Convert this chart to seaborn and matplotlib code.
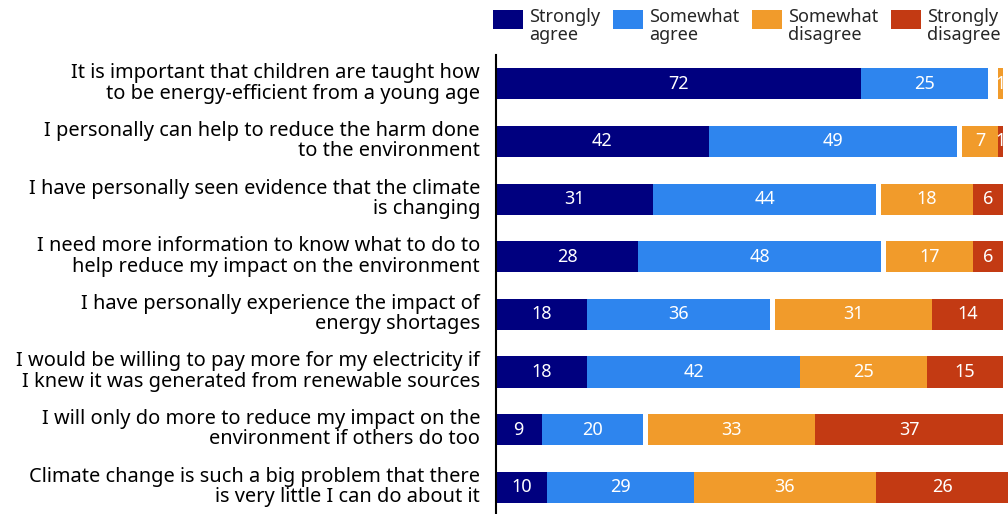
import numpy as np
import pandas as pd
import matplotlib
matplotlib.use("Agg")
import matplotlib.pyplot as plt
import matplotlib.transforms as mtransforms
import seaborn as sns
from matplotlib.patches import Patch, Rectangle
from matplotlib.legend_handler import HandlerBase

statements = [
    "It is important that children are taught how\nto be energy-efficient from a young age",
    "I personally can help to reduce the harm done\nto the environment",
    "I have personally seen evidence that the climate\nis changing",
    "I need more information to know what to do to\nhelp reduce my impact on the environment",
    "I have personally experience the impact of\nenergy shortages",
    "I would be willing to pay more for my electricity if\nI knew it was generated from renewable sources",
    "I will only do more to reduce my impact on the\nenvironment if others do too",
    "Climate change is such a big problem that there\nis very little I can do about it",
]
strongly_agree = [72, 42, 31, 28, 18, 18, 9, 10]
somewhat_agree = [25, 49, 44, 48, 36, 42, 20, 29]
somewhat_disagree = [1, 7, 18, 17, 31, 25, 33, 36]
strongly_disagree = [0, 1, 6, 6, 14, 15, 37, 26]
legend_labels = ["Strongly\nagree", "Somewhat\nagree", "Somewhat\ndisagree", "Strongly\ndisagree"]

colors = ["#00007f", "#2e85ee", "#f19b2b", "#c33a13"]

FONT = ["Noto Sans", "DejaVu Sans"]
sns.set_theme(style="white")
plt.rcParams["font.family"] = FONT

sa = np.array(strongly_agree, float)
wa = np.array(somewhat_agree, float)
wd = np.array(somewhat_disagree, float)
sd = np.array(strongly_disagree, float)
total = sa + wa + wd + sd
gap = np.clip(100 - total, 0, None)  # unanswered share, left blank

c1 = sa
c2 = c1 + wa
c3 = c2 + gap
c4 = c3 + wd
c5 = c4 + sd

df = pd.DataFrame({"statement": statements, "c1": c1, "c2": c2, "c3": c3,
                   "c4": c4, "c5": c5})

fig = plt.figure(figsize=(10.08, 5.14), dpi=100)
ax = fig.add_axes([496 / 1008, -0.004, 1 - 496 / 1008, 1 - 55 / 514 + 0.004])

layers = [("c5", colors[3]), ("c4", colors[2]), ("c3", "white"),
          ("c2", colors[1]), ("c1", colors[0])]
for col, colr in layers:
    sns.barplot(data=df, x=col, y="statement", orient="h", color=colr,
                width=0.54, linewidth=0, saturation=1, ax=ax)

# value labels
starts = [np.zeros_like(c1), c1, c3, c4]
values = [sa, wa, wd, sd]
for s, v in zip(starts, values):
    for i in range(len(statements)):
        if v[i] > 0:
            ax.text(s[i] + v[i] / 2, i, f"{int(v[i])}", ha="center", va="center",
                    color="white", fontsize=13, family=FONT)

ax.set_xlim(0, 101)
ax.set_ylim(7.5, -0.5)
ax.set_xlabel("")
ax.set_ylabel("")
ax.xaxis.set_visible(False)
for side in ["top", "right", "bottom"]:
    ax.spines[side].set_visible(False)
ax.spines["left"].set_color("black")
ax.spines["left"].set_linewidth(1.5)
ax.tick_params(axis="y", length=0, pad=11.5, labelsize=14.4, labelcolor="black")
shift = mtransforms.ScaledTranslation(0, 3 / 100, fig.dpi_scale_trans)
for t in ax.get_yticklabels():
    t.set_linespacing(1.02)
    t.set_transform(t.get_transform() + shift)


class SwatchHandler(HandlerBase):
    def create_artists(self, legend, orig_handle, xdescent, ydescent, width,
                       height, fontsize, trans):
        r = Rectangle((-xdescent, -ydescent + 0.42 * fontsize), width, height,
                      facecolor=orig_handle.get_facecolor(), edgecolor="none",
                      transform=trans)
        return [r]


handles = [Patch(facecolor=c) for c in colors]
leg = fig.legend(handles, legend_labels, loc="upper left",
                 bbox_to_anchor=(493 / 1008, 1 - 8 / 514), ncol=4, frameon=False,
                 fontsize=13, handlelength=1.65, handleheight=1.25,
                 handletextpad=0.33, columnspacing=0.72, borderpad=0,
                 borderaxespad=0,
                 handler_map={Patch: SwatchHandler()})
for t in leg.get_texts():
    t.set_linespacing(0.98)

fig.savefig("out.png", dpi=100)
